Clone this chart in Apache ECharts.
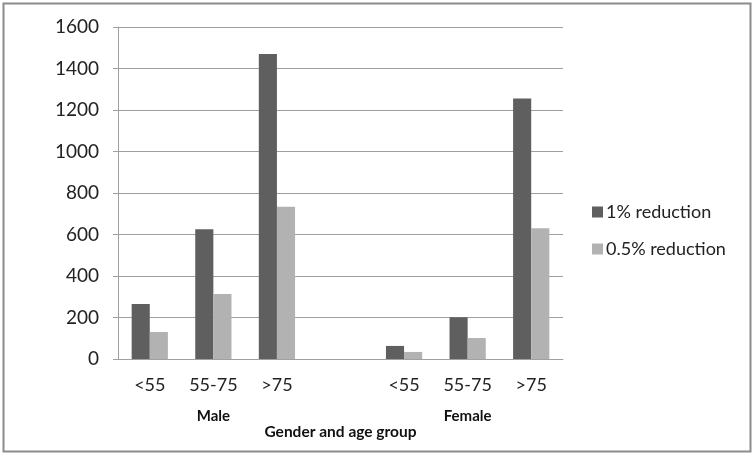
<!DOCTYPE html>
<html>
<head>
<meta charset="utf-8">
<script src="https://cdn.jsdelivr.net/npm/echarts@6/dist/echarts.min.js"></script>
<style>
  html, body { margin: 0; padding: 0; background: #fff; }
  #chart { width: 755px; height: 456px; }
</style>
</head>
<body>
<div id="chart"></div>
<script>
const ageGroups = ["<55", "55-75", ">75", "", "<55", "55-75", ">75"];
const genderLabels = ["", "Male", "", "", "", "Female", ""];
const reduction1 = [265, 625, 1470, null, 63, 201, 1255];
const reduction05 = [130, 313, 734, null, 34, 101, 630];
const yTicks = [0, 1600, 200]; // min, max, step

const font = "Lato, 'Open Sans', sans-serif";

const chart = echarts.init(document.getElementById("chart"));

const option = {
  animation: false,
  backgroundColor: "#fff",
  graphic: [
    {
      type: "rect",
      shape: { x: 3.5, y: 3.5, width: 747, height: 448 },
      style: { fill: "none", stroke: "#8c8c8c", lineWidth: 2 },
      silent: true,
    },
  ],
  grid: { left: 118, right: 192, top: 27, bottom: 97 },
  legend: {
    orient: "vertical",
    left: 587,
    top: 198,
    itemWidth: 11,
    itemHeight: 11,
    itemGap: 19,
    icon: "rect",
    textStyle: { fontFamily: font, fontSize: 18, color: "#222", padding: [0, 0, 0, -2] },
    data: ["1% reduction", "0.5% reduction"],
  },
  xAxis: [
    {
      type: "category",
      data: ageGroups,
      name: "Gender and age group",
      nameLocation: "middle",
      nameGap: 65,
      nameTextStyle: { fontFamily: font, fontSize: 15.5, fontWeight: "bold", color: "#111" },
      axisLine: { lineStyle: { color: "#a0a0a0", width: 1 } },
      axisTick: { length: 6, lineStyle: { color: "#a0a0a0" } },
      axisLabel: { fontFamily: font, fontSize: 18, color: "#222", margin: 17, interval: 0 },
    },
    {
      type: "category",
      data: genderLabels,
      position: "bottom",
      axisLine: { show: false },
      axisTick: { show: false },
      axisLabel: { fontFamily: font, fontSize: 15, fontWeight: "bold", color: "#111", margin: 50, interval: 0 },
    },
  ],
  yAxis: {
    type: "value",
    min: yTicks[0],
    max: yTicks[1],
    interval: yTicks[2],
    axisLine: { show: true, lineStyle: { color: "#a0a0a0", width: 1 } },
    axisTick: { show: true, length: 5, lineStyle: { color: "#a0a0a0" } },
    splitLine: { lineStyle: { color: "#a0a0a0", width: 1 } },
    axisLabel: {
      fontFamily: font,
      fontSize: 19,
      color: "#222",
      margin: 19,
      formatter: (v) => String(v),
    },
  },
  series: [
    {
      name: "1% reduction",
      type: "bar",
      data: reduction1,
      barGap: "0%",
      barCategoryGap: "43%",
      itemStyle: { color: "#5f5f5f" },
    },
    {
      name: "0.5% reduction",
      type: "bar",
      data: reduction05,
      barGap: "0%",
      barCategoryGap: "43%",
      itemStyle: { color: "#b2b2b2" },
    },
  ],
};

chart.setOption(option);
</script>
</body>
</html>
